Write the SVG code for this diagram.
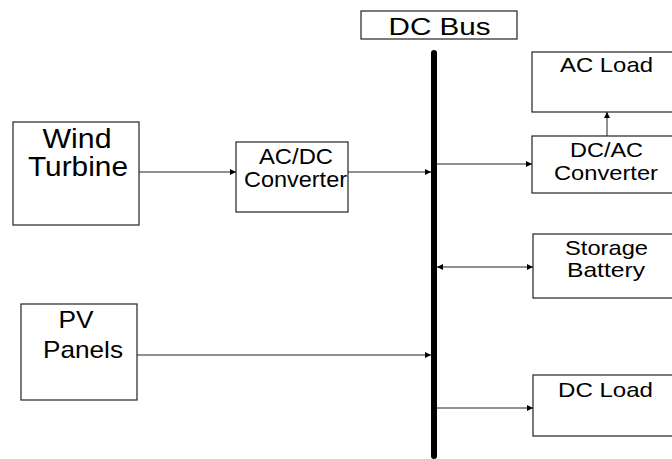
<svg xmlns="http://www.w3.org/2000/svg" width="672" height="459" viewBox="0 0 672 459">
<defs>
<marker id="ah" viewBox="0 0 10 10" refX="10" refY="5" markerWidth="7" markerHeight="6" markerUnits="userSpaceOnUse" orient="auto-start-reverse">
<path d="M0,0 L10,5 L0,10 z" fill="#000"/>
</marker>
<style>
.box{fill:#fff;stroke:#333;stroke-width:1.3}
.t{font-family:"Liberation Sans",Arial,sans-serif;fill:#000;text-anchor:middle}
.c{stroke:#222;stroke-width:1;fill:none}
</style>
</defs>
<rect width="672" height="459" fill="#fff"/>
<g id="dcbus">
<rect class="box" x="361" y="11" width="156" height="28"/>
<text class="t" x="439.5" y="35" font-size="23" textLength="102" lengthAdjust="spacingAndGlyphs">DC Bus</text>
<line x1="434" y1="53" x2="434" y2="456" stroke="#000" stroke-width="6" stroke-linecap="round"/>
</g>
<g id="wind">
<rect class="box" x="13" y="122" width="126" height="103"/>
<text class="t" x="77" y="148" font-size="28" textLength="69" lengthAdjust="spacingAndGlyphs">Wind</text>
<text class="t" x="78" y="176" font-size="28" textLength="100" lengthAdjust="spacingAndGlyphs">Turbine</text>
</g>
<g id="acdc">
<rect class="box" x="236" y="142" width="112" height="70"/>
<text class="t" x="296" y="164" font-size="22" textLength="74" lengthAdjust="spacingAndGlyphs">AC/DC</text>
<text class="t" x="295.5" y="187" font-size="22" textLength="103" lengthAdjust="spacingAndGlyphs">Converter</text>
</g>
<g id="pv">
<rect class="box" x="21" y="304" width="116" height="96"/>
<text class="t" x="76" y="328" font-size="24" textLength="35" lengthAdjust="spacingAndGlyphs">PV</text>
<text class="t" x="83" y="358" font-size="24" textLength="80" lengthAdjust="spacingAndGlyphs">Panels</text>
</g>
<g id="acload">
<rect class="box" x="532" y="52" width="150" height="60"/>
<text class="t" x="606.5" y="71.5" font-size="21" textLength="93" lengthAdjust="spacingAndGlyphs">AC Load</text>
</g>
<g id="dcac">
<rect class="box" x="532" y="136" width="150" height="57"/>
<text class="t" x="606.5" y="156.5" font-size="21" textLength="73" lengthAdjust="spacingAndGlyphs">DC/AC</text>
<text class="t" x="606" y="180" font-size="21" textLength="104" lengthAdjust="spacingAndGlyphs">Converter</text>
</g>
<g id="battery">
<rect class="box" x="533" y="234" width="150" height="64"/>
<text class="t" x="606.5" y="255" font-size="21" textLength="83" lengthAdjust="spacingAndGlyphs">Storage</text>
<text class="t" x="606" y="276.5" font-size="21" textLength="78" lengthAdjust="spacingAndGlyphs">Battery</text>
</g>
<g id="dcload">
<rect class="box" x="533" y="375" width="150" height="61"/>
<text class="t" x="605.5" y="396.5" font-size="21" textLength="95" lengthAdjust="spacingAndGlyphs">DC Load</text>
</g>
<g id="connectors">
<line class="c" x1="139" y1="172" x2="236" y2="172" marker-end="url(#ah)"/>
<line class="c" x1="348" y1="172" x2="431" y2="172" marker-end="url(#ah)"/>
<line class="c" x1="137" y1="355" x2="431" y2="355" marker-end="url(#ah)"/>
<line class="c" x1="437" y1="164" x2="532" y2="164" marker-end="url(#ah)"/>
<line class="c" x1="607" y1="136" x2="607" y2="112" marker-end="url(#ah)"/>
<line class="c" x1="437" y1="267" x2="533" y2="267" marker-start="url(#ah)" marker-end="url(#ah)"/>
<line class="c" x1="437" y1="408" x2="533" y2="408" marker-end="url(#ah)"/>
</g>
</svg>
